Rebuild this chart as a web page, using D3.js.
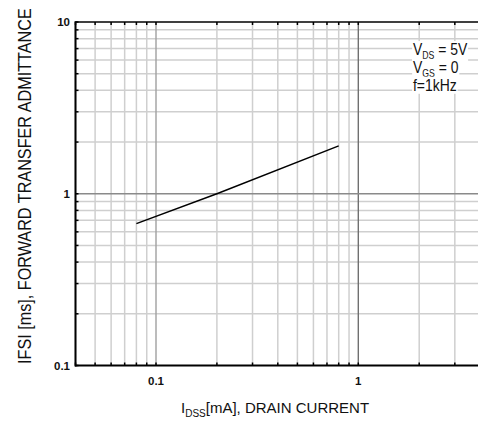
<!DOCTYPE html>
<html>
<head>
<meta charset="utf-8">
<script src="https://cdn.jsdelivr.net/npm/d3@7"></script>
<style>
  body { margin: 0; background: #fff; }
  svg { display: block; }
  text { font-family: "Liberation Sans", Arial, sans-serif; }
</style>
</head>
<body>
<svg id="chart" width="478" height="423"></svg>
<script>
// ---- data ----
const seriesX = [0.08, 0.2, 0.8];     // I_DSS [mA]
const seriesY = [0.67, 1.0, 1.9];     // |Yfs| [ms]
const xTickLabels = [0.1, 1];
const yTickLabels = [0.1, 1, 10];
const xDomain = [0.04, 4];
const yDomain = [0.1, 10];
const conditions = [
  { main: "V", sub: "DS", rest: " = 5V" },
  { main: "V", sub: "GS", rest: " = 0" },
  { main: "f=1kHz", sub: "", rest: "" }
];

// ---- layout ----
const svg = d3.select("#chart");
const pLeft = 75.5, pTop = 22, pBottom = 365.5;
const decade = 202.3;
const x = d3.scaleLog().domain(xDomain).range([pLeft, pLeft + 2 * decade]);
const y = d3.scaleLog().domain(yDomain).range([pBottom, pTop]);
const pRight = x.range()[1];

// minor grid
const g = svg.append("g");
const isMajor = v => Math.abs(Math.log10(v) - Math.round(Math.log10(v))) < 1e-6;
const xt = x.ticks();
const yt = y.ticks();
g.append("g").selectAll("line").data(xt.filter(v => !isMajor(v))).join("line")
  .attr("x1", d => x(d)).attr("x2", d => x(d)).attr("y1", pTop).attr("y2", pBottom)
  .attr("stroke", "#cfcfcf").attr("stroke-width", 1.5);
g.append("g").selectAll("line").data(yt.filter(v => !isMajor(v))).join("line")
  .attr("x1", pLeft).attr("x2", pRight).attr("y1", d => y(d)).attr("y2", d => y(d))
  .attr("stroke", "#cfcfcf").attr("stroke-width", 1.5);
// major grid
g.append("g").selectAll("line").data(xt.filter(isMajor)).join("line")
  .attr("x1", d => x(d)).attr("x2", d => x(d)).attr("y1", pTop).attr("y2", pBottom)
  .attr("stroke", d => d === 1 ? "#707070" : "#a0a0a0").attr("stroke-width", 1.4);
g.append("g").selectAll("line").data(yt.filter(v => isMajor(v) && v > yDomain[0] && v < yDomain[1])).join("line")
  .attr("x1", pLeft).attr("x2", pRight).attr("y1", d => y(d)).attr("y2", d => y(d))
  .attr("stroke", "#8a8a8a").attr("stroke-width", 1.4);

// conditions text with white boxes
conditions.forEach((c, i) => {
  const grp = svg.append("g").attr("transform", `translate(413, ${55 + i * 17.8}) scale(0.87,1)`);
  const rect = grp.append("rect").attr("fill", "#fff");
  const t = grp.append("text").attr("font-size", 16).attr("fill", "#111");
  t.append("tspan").text(c.main);
  if (c.sub) {
    t.append("tspan").attr("font-size", 10).attr("dy", 4).text(c.sub);
    t.append("tspan").attr("dy", -4).text(c.rest);
  }
  const bb = t.node().getBBox();
  rect.attr("x", bb.x - 1).attr("y", bb.y + 1).attr("width", bb.width + 2).attr("height", bb.height - 1);
});

// axes frame
svg.append("line").attr("x1", pLeft).attr("x2", pRight).attr("y1", pTop).attr("y2", pTop)
  .attr("stroke", "#000").attr("stroke-width", 1.6);
svg.append("line").attr("x1", pLeft - 0.5).attr("x2", pRight).attr("y1", pBottom).attr("y2", pBottom)
  .attr("stroke", "#000").attr("stroke-width", 2);
svg.append("line").attr("x1", pLeft).attr("x2", pLeft).attr("y1", pTop - 0.8).attr("y2", pBottom + 1)
  .attr("stroke", "#000").attr("stroke-width", 2);

// tick marks
svg.append("g").selectAll("line").data(xt).join("line")
  .attr("x1", d => x(d)).attr("x2", d => x(d)).attr("y1", pBottom).attr("y2", pBottom - 3)
  .attr("stroke", "#000").attr("stroke-width", 1.5);
svg.append("g").selectAll("line").data(xt).join("line")
  .attr("x1", d => x(d)).attr("x2", d => x(d)).attr("y1", pTop).attr("y2", pTop + 3)
  .attr("stroke", "#000").attr("stroke-width", 1.5);
svg.append("g").selectAll("line").data(yt).join("line")
  .attr("x1", pLeft).attr("x2", pLeft + 3).attr("y1", d => y(d)).attr("y2", d => y(d))
  .attr("stroke", "#000").attr("stroke-width", 1.5);

// data line
svg.append("path")
  .datum(seriesX.map((v, i) => [v, seriesY[i]]))
  .attr("d", d3.line().x(d => x(d[0])).y(d => y(d[1])))
  .attr("fill", "none").attr("stroke", "#000").attr("stroke-width", 1.5);

// tick labels
const fmt = v => String(v);
svg.append("g").selectAll("text").data(xTickLabels).join("text")
  .attr("x", d => x(d)).attr("y", 385).attr("text-anchor", "middle")
  .attr("font-size", 11.5).attr("font-weight", "bold").attr("fill", "#111").text(fmt);
svg.append("g").selectAll("text").data(yTickLabels).join("text")
  .attr("x", 70).attr("y", d => y(d) + 4.2).attr("text-anchor", "end")
  .attr("font-size", 11.5).attr("font-weight", "bold").attr("fill", "#111").text(fmt);

// axis titles
const xl = svg.append("text").attr("x", 181).attr("y", 413).attr("font-size", 15).attr("fill", "#111");
xl.append("tspan").text("I");
xl.append("tspan").attr("font-size", 10).attr("dy", 3.5).text("DSS");
xl.append("tspan").attr("dy", -3.5).text("[mA], DRAIN CURRENT");

const yl = svg.append("g");
const ylt = yl.append("text").attr("font-size", 16).attr("fill", "#111")
  .text("IFSI [ms], FORWARD TRANSFER ADMITTANCE");
const natural = ylt.node().getComputedTextLength();
const sx = 356 / natural;
yl.attr("transform", `translate(30.5, 364) rotate(-90) scale(${sx}, 1.13)`);
</script>
</body>
</html>
